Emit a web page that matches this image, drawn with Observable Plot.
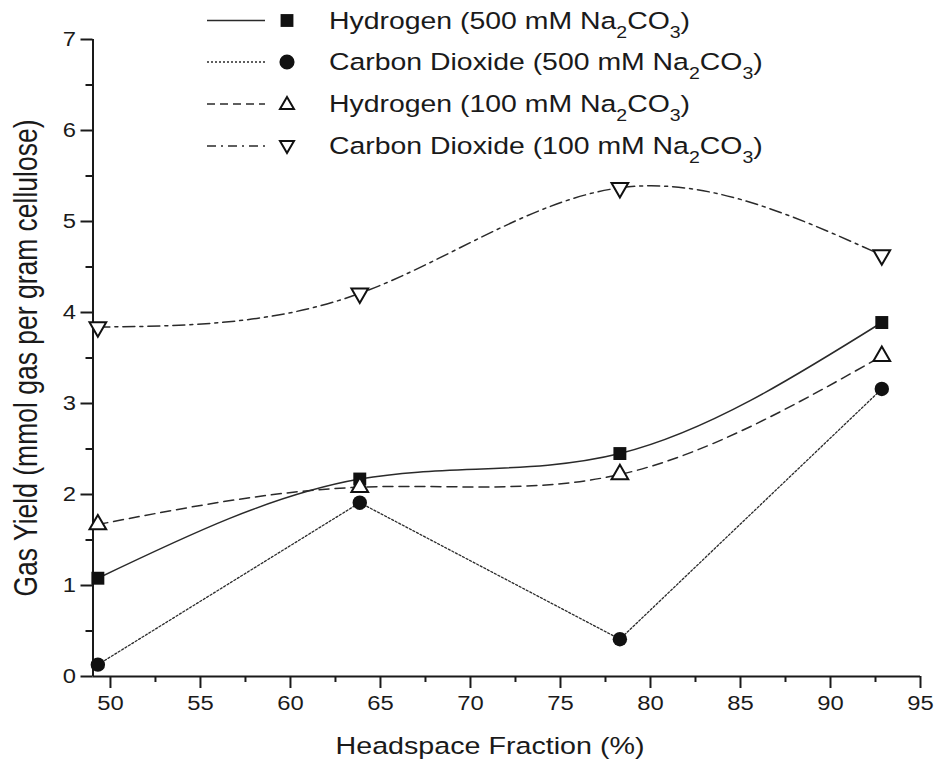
<!DOCTYPE html>
<html>
<head>
<meta charset="utf-8">
<script src="https://cdn.jsdelivr.net/npm/d3@7"></script>
<script src="https://cdn.jsdelivr.net/npm/@observablehq/plot@0.6"></script>
<style>
  html, body { margin: 0; padding: 0; background: #fff; }
  #chart { width: 936px; height: 769px; }
</style>
</head>
<body>
<div id="chart"></div>
<script>
// ---- data ----
const headspace = [49.3, 63.85, 78.3, 92.85];
const h2_500  = [1.08, 2.17, 2.45, 3.89];
const co2_500 = [0.13, 1.91, 0.41, 3.16];
const h2_100  = [1.67, 2.08, 2.22, 3.52];
const co2_100 = [3.84, 4.21, 5.37, 4.63];

const seriesNames = [
  "Hydrogen (500 mM Na2CO3)",
  "Carbon Dioxide (500 mM Na2CO3)",
  "Hydrogen (100 mM Na2CO3)",
  "Carbon Dioxide (100 mM Na2CO3)"
];
const legendPrefix = ["Hydrogen (500 mM Na", "Carbon Dioxide (500 mM Na", "Hydrogen (100 mM Na", "Carbon Dioxide (100 mM Na"];

const xTicks = [50, 55, 60, 65, 70, 75, 80, 85, 90, 95];
const xMinorTicks = [52.5, 57.5, 62.5, 67.5, 72.5, 77.5, 82.5, 87.5, 92.5];
const yTicks = [0, 1, 2, 3, 4, 5, 6, 7];
const yMinorTicks = [0.5, 1.5, 2.5, 3.5, 4.5, 5.5, 6.5];
const xDomain = [49.03, 95];
const yDomain = [0, 7];

// ---- styles per series ----
const styles = [
  {dash: null,          curve: "natural", symbol: "square",   fill: "#111", r: 7.3, rotate: 0,   sw: 1.5},
  {dash: "2,2",         curve: "linear",  symbol: "circle",   fill: "#111", r: 7.2, rotate: 0,   sw: 1.3},
  {dash: "10,6",        curve: "natural", symbol: "triangle", fill: "#fff", r: 6.2, rotate: 0,   sw: 1.5},
  {dash: "12,5,3,5",    curve: "natural", symbol: "triangle", fill: "#fff", r: 6.2, rotate: 180, sw: 1.5}
];
const allValues = [h2_500, co2_500, h2_100, co2_100];

const tables = allValues.map((vals, i) => headspace.map((x, j) => ({x, y: vals[j], s: seriesNames[i]})));

const font = "'Liberation Sans', Arial, Helvetica, sans-serif";
const ink = "#1a1a1a";
const stretch = 1.22; // reference text is horizontally wide
const marks = [];

// series lines
tables.forEach((t, i) => {
  const st = styles[i];
  marks.push(Plot.line(t, {x: "x", y: "y", curve: st.curve, stroke: "#2a2a2a", strokeWidth: st.sw,
    strokeDasharray: st.dash || undefined}));
});
// axis lines
marks.push(Plot.ruleY([yDomain[0]], {stroke: ink, strokeWidth: 2}));
marks.push(Plot.ruleX([xDomain[0]], {stroke: ink, strokeWidth: 2}));
// markers
tables.forEach((t, i) => {
  const st = styles[i];
  marks.push(Plot.dot(t, {x: "x", y: "y", symbol: () => st.symbol, r: st.r, rotate: st.rotate,
    fill: st.fill, stroke: "#111", strokeWidth: st.symbol === "triangle" ? 2 : 0}));
});
// axes
const fmt = d => String(d);
marks.push(Plot.axisX(xTicks, {tickSize: 12, tickPadding: 8, stroke: ink, strokeWidth: 2, fill: ink, fontSize: 19.5, tickFormat: fmt, label: null}));
marks.push(Plot.axisX(xMinorTicks, {tickSize: 6, stroke: ink, strokeWidth: 2, text: null, label: null}));
marks.push(Plot.axisY(yTicks, {tickSize: 12, tickPadding: 5, stroke: ink, strokeWidth: 2, fill: ink, fontSize: 19.5, tickFormat: fmt, label: null}));
marks.push(Plot.axisY(yMinorTicks, {tickSize: 7, stroke: ink, strokeWidth: 2, text: null, label: null}));

const plot = Plot.plot({
  width: 936,
  height: 769,
  marginLeft: 92.5,
  marginRight: 16,
  marginTop: 39,
  marginBottom: 93,
  style: {fontFamily: font, fontSize: "19.5px", background: "#fff", overflow: "visible"},
  x: {domain: xDomain},
  y: {domain: yDomain},
  marks
});

document.getElementById("chart").appendChild(plot);

const svg = d3.select(plot);

// widen tick labels to match the reference's wide lettering
svg.selectAll('g[aria-label="x-axis tick label"] text, g[aria-label="y-axis tick label"] text').each(function() {
  const len = this.getComputedTextLength();
  this.setAttribute("textLength", len * stretch);
  this.setAttribute("lengthAdjust", "spacingAndGlyphs");
});

// ---- axis titles ----
svg.append("g").attr("transform", `translate(490,754) scale(${stretch},1)`)
  .append("text").attr("text-anchor", "middle")
  .style("font-family", font).style("font-size", "23.5px").attr("fill", ink)
  .text("Headspace Fraction (%)");
svg.append("g").attr("transform", `translate(37,358) rotate(-90) scale(1,${stretch})`)
  .append("text").attr("text-anchor", "middle")
  .style("font-family", font).style("font-size", "26.5px").attr("fill", ink)
  .text("Gas Yield (mmol gas per gram cellulose)");

// ---- legend ----
const legend = svg.append("g").attr("class", "legend").attr("text-anchor", "start");
const rowY = [20.5, 62, 104, 146];
const symMap = {square: d3.symbolSquare, circle: d3.symbolCircle, triangle: d3.symbolTriangle};
const legendDash = ["", "2,2", "8,5", "9,5,2,5"];
styles.forEach((st, i) => {
  const y = rowY[i];
  legend.append("line").attr("x1", 207).attr("x2", 265).attr("y1", y).attr("y2", y)
    .attr("stroke", "#2a2a2a").attr("stroke-width", st.sw)
    .attr("stroke-dasharray", legendDash[i] || null);
  const size = st.symbol === "square" ? 165 : st.symbol === "circle" ? 180 : 85;
  legend.append("path")
    .attr("d", d3.symbol(symMap[st.symbol], size)())
    .attr("transform", `translate(287,${y + (st.symbol === "triangle" ? (st.rotate ? -1 : 1) : 0)}) rotate(${st.rotate})`)
    .attr("fill", st.fill).attr("stroke", "#111").attr("stroke-width", st.symbol === "triangle" ? 2 : 0);
  const t = legend.append("g").attr("transform", `translate(329,${y + 8}) scale(${stretch},1)`)
    .append("text").attr("text-anchor", "start")
    .style("font-family", font).style("font-size", "23.3px").attr("fill", ink);
  t.append("tspan").text(legendPrefix[i]);
  t.append("tspan").attr("dy", 9).style("font-size", "16px").text("2");
  t.append("tspan").attr("dy", -9).text("CO");
  t.append("tspan").attr("dy", 9).style("font-size", "16px").text("3");
  t.append("tspan").attr("dy", -9).text(")");
});
</script>
</body>
</html>
